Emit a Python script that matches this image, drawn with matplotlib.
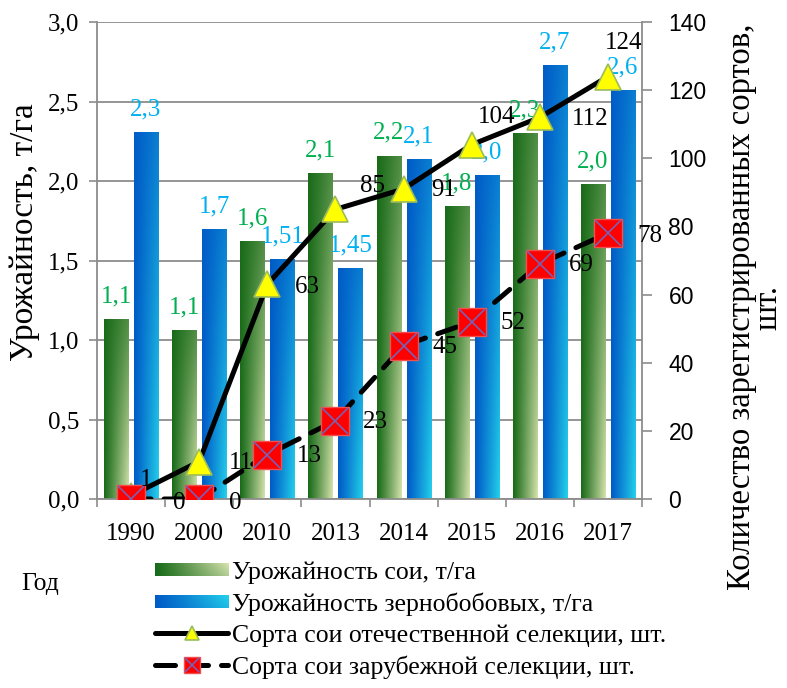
import numpy as np
import matplotlib
matplotlib.use("Agg")
import matplotlib.pyplot as plt
from matplotlib.patches import Rectangle
from matplotlib.legend_handler import HandlerBase, HandlerTuple
from matplotlib.image import BboxImage
from matplotlib.transforms import Bbox, TransformedBbox

plt.rcParams['font.family'] = ['Liberation Serif', 'DejaVu Serif']

# Data
years = ["1990", "2000", "2010", "2013", "2014", "2015", "2016", "2017"]
soy_yield = [1.13, 1.06, 1.62, 2.05, 2.16, 1.84, 2.30, 1.98]
soy_labels = ["1,1", "1,1", "1,6", "2,1", "2,2", "1,8", "2,3", "2,0"]
legume_yield = [2.31, 1.70, 1.51, 1.45, 2.14, 2.04, 2.73, 2.57]
legume_labels = ["2,3", "1,7", "1,51", "1,45", "2,1", "2,0", "2,7", "2,6"]
domestic = [1, 11, 63, 85, 91, 104, 112, 124]
foreign = [0, 0, 13, 23, 45, 52, 69, 78]

# label offsets (points) for the line labels
dom_off = [(11, 11), (30, -1), (29, -2), (27, 17), (29, -1), (18, 20), (36, -1), (11, 24)]
for_off = [(35, -3), (26, -3), (30, -1), (29, -1), (30, -1), (30, -1), (30, -1), (30, -2)]

GREEN_DARK, GREEN_LIGHT = (0.10, 0.42, 0.10), (0.84, 0.89, 0.68)
BLUE_DARK, BLUE_LIGHT = (0.0, 0.36, 0.78), (0.14, 0.82, 0.92)
GRAY = '#8c8c8c'
FS = 18


def gradient(dark, light, vert=0.7):
    x = np.linspace(0, 1, 40)[None, :]
    y = np.linspace(0, 1, 80)[:, None]
    w = x ** 1.1 * ((1 - vert) + vert * (1 - y))
    dark = np.array(dark)
    light = np.array(light)
    return np.clip(dark + (light - dark) * w[..., None], 0, 1)


class GradHandler(HandlerBase):
    def __init__(self, img):
        super().__init__()
        self.img = img

    def create_artists(self, legend, orig_handle, xdescent, ydescent,
                       width, height, fontsize, trans):
        h = height * 0.7
        bb = Bbox.from_bounds(-xdescent, -ydescent + (height - h) / 2, width, h)
        bim = BboxImage(TransformedBbox(bb, trans), interpolation='bilinear')
        bim.set_data(self.img)
        return [bim]


green_img = gradient(GREEN_DARK, GREEN_LIGHT)
blue_img = gradient(BLUE_DARK, BLUE_LIGHT)

fig = plt.figure(figsize=(7.87, 6.88), dpi=100)
ax = fig.add_axes([97 / 787, 1 - 499 / 688, 545 / 787, 477 / 688])
ax2 = ax.twinx()

xpos = np.arange(len(years))
w = 0.353
b1 = ax.bar(xpos - 0.22, soy_yield, w, color='none', zorder=2)
b2 = ax.bar(xpos + 0.22, legume_yield, w, color='none', zorder=2)

for bars, img in ((b1, green_img), (b2, blue_img)):
    for p in bars:
        x0, y0 = p.get_x(), p.get_y()
        im = ax.imshow(img, extent=(x0, x0 + p.get_width(), y0, y0 + p.get_height()),
                       origin='lower', aspect='auto', zorder=2, interpolation='bilinear')
        im.set_clip_path(p)

for p, lab in zip(b1, soy_labels):
    ax.annotate(lab, (p.get_x() + p.get_width() / 2, p.get_height()), xytext=(0, 12),
                textcoords='offset points', ha='center', va='baseline',
                fontsize=FS, color='#00b050', zorder=6)
for p, lab in zip(b2, legume_labels):
    ax.annotate(lab, (p.get_x() + p.get_width() / 2, p.get_height()), xytext=(0, 12),
                textcoords='offset points', ha='center', va='baseline',
                fontsize=FS, color='#00b0f0', zorder=6)

ax.set_xlim(-0.5, 7.5)
ax.set_ylim(0, 3)
ax.set_yticks(np.arange(0, 3.01, 0.5))
ax.set_yticklabels([f"{v:.1f}".replace('.', ',') for v in np.arange(0, 3.01, 0.5)])
ax.set_xticks(xpos, years)
ax.set_xticks(np.arange(-0.5, 8, 1), minor=True)
ax.tick_params(axis='x', which='major', length=0, pad=17, labelsize=FS)
ax.tick_params(axis='x', which='minor', length=6, width=1.2, color=GRAY)
ax.tick_params(axis='y', length=6, width=1.2, color=GRAY, pad=7, labelsize=FS)
ax.yaxis.grid(True, color=GRAY, lw=1.3)
ax.set_axisbelow(True)
for s in ('top', 'right'):
    ax.spines[s].set_visible(False)
for s in ('left', 'bottom'):
    ax.spines[s].set_color(GRAY)
    ax.spines[s].set_linewidth(1.3)

l1, = ax2.plot(xpos, domestic, color='black', lw=3.6, marker='^', ms=19,
               mfc='#ffff00', mec='#9bbb59', mew=1.2, zorder=3,
               solid_capstyle='round')
l2, = ax2.plot(xpos, foreign, color='black', lw=3.6, ls=(0, (4, 2.6)), marker='s', ms=20,
               mfc='#ff0000', mec='#f05050', mew=1, zorder=4, dash_capstyle='round')
l2x, = ax2.plot(xpos, foreign, ls='none', marker='x', ms=19, mec='#7a60b0', mew=1.2, zorder=5)

for x, v, off in zip(xpos, domestic, dom_off):
    ax2.annotate(str(v), (x, v), xytext=off, textcoords='offset points',
                 ha='center', va='center', fontsize=FS, zorder=6)
for x, v, off in zip(xpos, foreign, for_off):
    ax2.annotate(str(v), (x, v), xytext=off, textcoords='offset points',
                 ha='center', va='center', fontsize=FS, zorder=6)

ax2.set_ylim(0, 140)
ax2.set_yticks(np.arange(0, 141, 20))
ax2.tick_params(axis='y', length=7, width=1.2, color=GRAY, pad=12, labelsize=16.5)
for t in ax2.get_yticklabels():
    t.set_fontfamily('Liberation Sans')
for s in ('top', 'left', 'bottom'):
    ax2.spines[s].set_visible(False)
ax2.spines['right'].set_color(GRAY)
ax2.spines['right'].set_linewidth(1.3)

fig.text(25 / 787, 1 - 232 / 688, "Урожайность, т/га", rotation=90,
         ha='center', va='center', fontsize=24)
fig.text(755 / 787, 1 - 307 / 688, "Количество зарегистрированных сортов,\nшт.",
         rotation=90, ha='center', va='center', multialignment='center',
         fontsize=23.5, linespacing=0.8)
fig.text(40 / 787, 1 - 584 / 688, "Год", ha='center', va='center', fontsize=18.5)

g_h = Rectangle((0, 0), 1, 1)
b_h = Rectangle((0, 0), 1, 1)
ax2.legend([g_h, b_h, l1, (l2, l2x)],
           ["Урожайность сои, т/га", "Урожайность зернобобовых, т/га",
            "Сорта сои отечественной селекции, шт.", "Сорта сои зарубежной селекции, шт."],
           handler_map={g_h: GradHandler(gradient(GREEN_DARK, GREEN_LIGHT, 0.2)),
                        b_h: GradHandler(gradient(BLUE_DARK, BLUE_LIGHT, 0.2)),
                        tuple: HandlerTuple(ndivide=1)},
           loc='upper left', bbox_to_anchor=(155 / 787, 1 - 561 / 688),
           bbox_transform=fig.transFigure, frameon=False, fontsize=18.5,
           borderpad=0, borderaxespad=0, handlelength=2.85, handletextpad=0.15,
           labelspacing=0.33, markerscale=0.55)

fig.savefig("out.png", dpi=100)
